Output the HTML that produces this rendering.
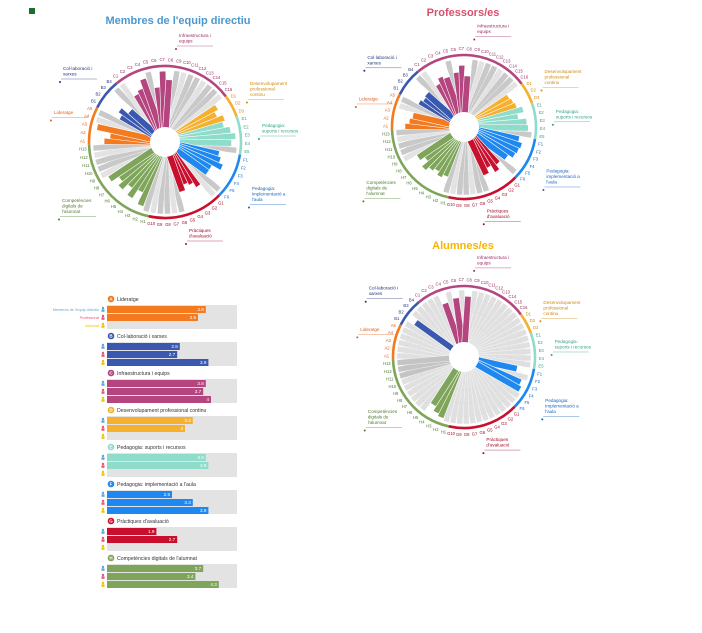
<!DOCTYPE html>
<html><head><meta charset="utf-8"><style>
html,body{margin:0;padding:0;background:#fff;width:702px;height:633px;overflow:hidden}
svg{display:block;font-family:"Liberation Sans",sans-serif}
</style></head><body>
<svg id="s" width="702" height="633" viewBox="0 0 702 633" xmlns="http://www.w3.org/2000/svg">
<rect x="29" y="8" width="6" height="6" fill="#1a6e2e"/>
<text x="178" y="24" font-size="11" font-weight="bold" fill="#4a98d0" text-anchor="middle">Membres de l'equip directiu</text>
<text x="463" y="16" font-size="11" font-weight="bold" fill="#d9506e" text-anchor="middle">Professors/es</text>
<text x="463" y="249" font-size="11" font-weight="bold" fill="#f2b705" text-anchor="middle">Alumnes/es</text>
</svg>
<script>
const S=document.getElementById('s');const NS='http://www.w3.org/2000/svg';
function el(t,a,txt){const e=document.createElementNS(NS,t);for(const k in a)e.setAttribute(k,a[k]);if(txt!==undefined)e.textContent=txt;S.appendChild(e);return e;}
const cats=[['A',5,'#f47a20','#e0601a'],['B',4,'#3b58b0','#22357a'],['C',16,'#b5457f','#9a2c66'],['D',3,'#f5b02e','#d08a10'],['E',5,'#8fdccb','#3aa088'],['F',6,'#1e88f0','#1565c0'],['G',10,'#c8102e','#a00c24'],['H',13,'#7ea55a','#4f7a30']];
const items=[];cats.forEach(c=>{for(let k=1;k<=c[1];k++)items.push({lab:c[0]+k,col:c[2],dk:c[3],cat:c[0]});});
const N=items.length,step=360/N,start=268;
function P(cx,cy,r,a){const t=a*Math.PI/180;return[cx+r*Math.sin(t),cy-r*Math.cos(t)];}
function bar(cx,cy,len,a,w,fill,st){const o={x:cx-w/2,y:cy-len,width:w,height:len,fill,transform:`rotate(${a} ${cx} ${cy})`};if(st){o.stroke='#fff';o['stroke-width']=0.35;}el('rect',o);}
function radial(cx,cy,R,vals,grayMode){
  const r0=15,rm=R-4,w=5.8;
  for(let i=0;i<N;i++){const a=start+(i+.5)*step;if(vals[i]>0)continue;
    let g;
    if(grayMode) g=(i>=N-3)?'#c4c4c4':'#e0e0e0';
    else g=(i%3===0)?'#e3e3e3':'#c9c9c9';
    bar(cx,cy,rm,a,w,g,true);}
  for(let i=0;i<N;i++){const a=start+(i+.5)*step;const v=vals[i];if(v>0){bar(cx,cy,rm,a,w+1.2,'#fff');bar(cx,cy,r0+(rm-r0)*v/4,a,w,items[i].col);}}
  el('circle',{cx,cy,r:r0,fill:'#fff'});
  [0.35,0.6,0.85].forEach(f=>el('circle',{cx,cy,r:r0+(rm-r0)*f,fill:'none',stroke:'#999','stroke-width':0.4,'stroke-dasharray':'0.8 3',opacity:0.6}));
  let idx=0;cats.forEach(c=>{const a0=start+idx*step,a1=start+(idx+c[1])*step;const p1=P(cx,cy,R,a0),p2=P(cx,cy,R,a1);
    el('path',{d:`M${p1}A${R},${R} 0 ${(a1-a0)>180?1:0} 1 ${p2}`,fill:'none',stroke:c[2],'stroke-width':2.6});idx+=c[1];});
  items.forEach((it,i)=>{const p=P(cx,cy,R+6.5,start+(i+.5)*step);el('text',{x:p[0],y:p[1]+1.6,'font-size':4.2,fill:it.dk,'text-anchor':'middle'},it.lab);});
  const cs=R/76;
  const call=[[14,-105,['Infraestructura i','equips'],'#9a2c66'],[-102,-72,['Col·laboració i','xarxes'],'#22357a'],[-111,-28,['Lideratge'],'#e0601a'],[85,-57,['Desenvolupament','professional','continu'],'#d08a10'],[97,-15,['Pedagogia:','suports i recursos'],'#3aa088'],[87,48,['Pedagogia:','implementació a','l\'aula'],'#1565c0'],[24,90,['Pràctiques','d\'avaluació'],'#a00c24'],[-103,60,['Competències','digitals de','l\'alumnat'],'#4f7a30']];
  call.forEach(c=>{const x=cx+c[0]*cs,y=cy+c[1]*cs;c[2].forEach((t,j)=>el('text',{x,y:y+j*5.5,'font-size':4.6,fill:c[3]},t));
    const ly=y+c[2].length*5.5-2;el('line',{x1:x-2,y1:ly,x2:x+34,y2:ly,stroke:c[3],'stroke-width':0.5,opacity:0.7});
    el('circle',{cx:x-3,cy:ly+3,r:1,fill:c[3]});});
}
function arr(o){const a=[];['A','B','C','D','E','F','G','H'].forEach(k=>a.push(...o[k]));return a;}
const z=n=>Array(n).fill(0);
radial(165,142,76,arr({A:[3.2,2.8,3.8,0,0],B:[2.5,2.8,2.2,0],C:[0,2.8,3.0,3.6,0,2.8,3.9,3.3,...z(8)],D:[3.3,3.0,3.4],E:[3.2,3.6,3.9,3.6,0],F:[2.8,3.0,3.3,2.6,2.6,0],G:[0,2.8,2.4,2.2,2.6,0,0,0,0,0],H:[0,3.7,2.8,3.5,2.9,3.4,3.0,3.6,0,0,0,0,0]}),false);
radial(464,127,72,arr({A:[3.3,3.0,2.8,0,0],B:[2.7,2.5,2.6,0],C:[0,2.6,3.0,2.8,0,3.0,3.5,2.7,...z(8)],D:[2.9,3.0,3.1],E:[3.5,3.0,3.6,3.7,0],F:[3.1,3.4,3.3,3.2,2.8,0],G:[2.6,3.0,2.4,2.8,0,0,0,0,0,0],H:[0,2.8,3.0,2.7,2.9,3.2,2.6,3.0,0,0,0,0,0]}),false);
radial(464,357,71,arr({A:z(5),B:[0,3.4,0,0],C:[0,0,0,3.2,0,3.4,0,3.5,...z(8)],D:z(3),E:z(5),F:[3.0,0,3.6,3.8,0,0],G:z(10),H:[0,3.8,3.6,3.2,...z(9)]}),true);
const bc=[['A','Lideratge',[3.8,3.5,0]],['B','Col·laboració i xarxes',[2.8,2.7,3.9]],['C','Infraestructura i equips',[3.8,3.7,4]],['D','Desenvolupament professional continu',[3.3,3,0]],['E','Pedagogia: suports i recursos',[3.8,3.9,0]],['F','Pedagogia: implementació a l\'aula',[2.5,3.3,3.9]],['G','Pràctiques d\'avaluació',[1.9,2.7,0]],['H','Competències digitals de l\'alumnat',[3.7,3.4,4.3]]];
const ic=['#5aa8e0','#e8557a','#f2c200'];
bc.forEach((b,k)=>{const hy=299+k*37;const c=cats[k];
  el('circle',{cx:111,cy:hy,r:3.3,fill:c[2]});el('text',{x:111,y:hy+1.7,'font-size':4.5,fill:'#fff','font-weight':'bold','text-anchor':'middle'},b[0]);
  el('text',{x:117,y:hy+1.8,'font-size':5.2,fill:'#333'},b[1]);
  el('rect',{x:107,y:hy+6,width:130,height:24,fill:'#e3e3e3'});
  b[2].forEach((v,j)=>{const y=hy+7+j*8;
    el('circle',{cx:103,cy:y+2,r:1.2,fill:ic[j]});el('rect',{x:101.5,y:y+3.3,width:3,height:2.5,fill:ic[j]});
    if(v>0){const w=v*26;el('rect',{x:107,y,width:w,height:7,fill:c[2]});el('text',{x:107+w-2,y:y+5,'font-size':4.6,fill:'#fff','text-anchor':'end'},String(v));}
  });
  if(k===0){['Membres de l\'equip directiu','Professorat','Alumnat'].forEach((t,j)=>el('text',{x:99,y:hy+12+j*8,'font-size':3.8,fill:ic[j],'text-anchor':'end'},t));}
});
</script>
</body></html>
